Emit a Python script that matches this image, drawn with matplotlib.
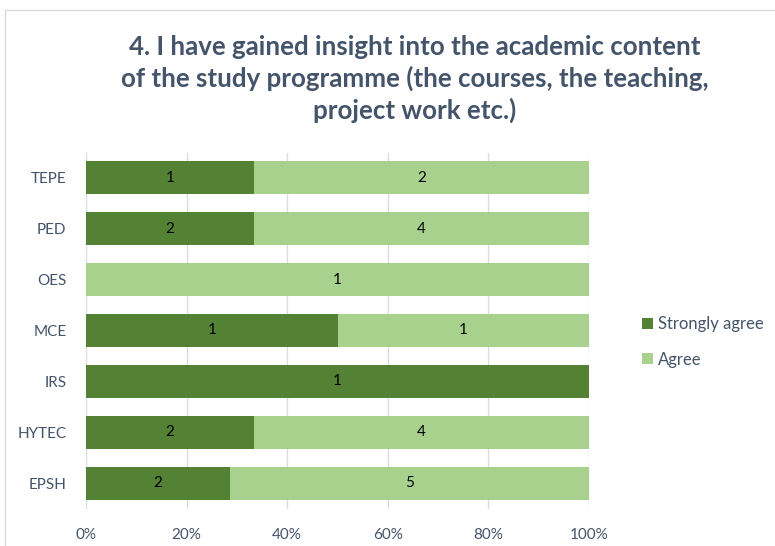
import matplotlib
matplotlib.use("Agg")
import matplotlib.pyplot as plt
from matplotlib.patches import Rectangle
from matplotlib.ticker import PercentFormatter

categories = ["TEPE", "PED", "OES", "MCE", "IRS", "HYTEC", "EPSH"]
strongly_agree = [1, 2, 0, 1, 1, 2, 2]
agree = [2, 4, 1, 1, 0, 4, 5]
series_names = ["Strongly agree", "Agree"]
title = "4. I have gained insight into the academic content\nof the study programme (the courses, the teaching,\nproject work etc.)"

plt.rcParams['font.family'] = ['Lato', 'DejaVu Sans']
dark = "#548235"
light = "#A9D18E"
txt = "#44546A"

fig = plt.figure(figsize=(7.75, 5.46), dpi=100)
ax = fig.add_axes([86/775, 1-508.5/546, (589-86)/775, (508.5-152.5)/546])

n = len(categories)
ys = list(range(n))[::-1]
totals = [a + b for a, b in zip(strongly_agree, agree)]
sa_pct = [a / t for a, t in zip(strongly_agree, totals)]
ag_pct = [b / t for b, t in zip(agree, totals)]

ax.barh(ys, sa_pct, height=0.65, color=dark, label=series_names[0], zorder=3)
ax.barh(ys, ag_pct, left=sa_pct, height=0.65, color=light, label=series_names[1], zorder=3)

for y, s, a, sp, ap in zip(ys, strongly_agree, agree, sa_pct, ag_pct):
    if s > 0:
        ax.text(sp / 2, y, str(s), ha="center", va="center", fontsize=11, color="black", zorder=4)
    if a > 0:
        ax.text(sp + ap / 2, y, str(a), ha="center", va="center", fontsize=11, color="black", zorder=4)

ax.set_xlim(0, 1)
ax.set_ylim(-0.5, n - 0.5)
ax.set_yticks(ys)
ax.set_yticklabels(categories)
ax.set_xticks([0, 0.2, 0.4, 0.6, 0.8, 1.0])
ax.xaxis.set_major_formatter(PercentFormatter(1.0, decimals=0))
ax.tick_params(axis="both", length=0, labelsize=11, colors=txt)
ax.tick_params(axis="x", pad=14)
ax.tick_params(axis="y", pad=14)
for sp_ in ax.spines.values():
    sp_.set_visible(False)
ax.grid(axis="x", color="#D9DEE6", linewidth=1, zorder=0)
ax.set_axisbelow(True)

fig.text(415/775, 1-79/546, title, ha="center", va="center", fontsize=18.6,
         fontweight="bold", color=txt, linespacing=1.32)

h, l = ax.get_legend_handles_labels()
fig.legend(h, l, loc="center left", bbox_to_anchor=(627/775, 1-342/546), frameon=False,
           fontsize=12, labelcolor=txt, handlelength=0.65, handleheight=0.65,
           handletextpad=0.3, labelspacing=1.15)

fig.patches.append(Rectangle((5/775, -0.01), 1.0, 1-10/546+0.01, transform=fig.transFigure,
                             fill=False, edgecolor="#D9D9D9", linewidth=1))

fig.savefig("out.png", dpi=100)
